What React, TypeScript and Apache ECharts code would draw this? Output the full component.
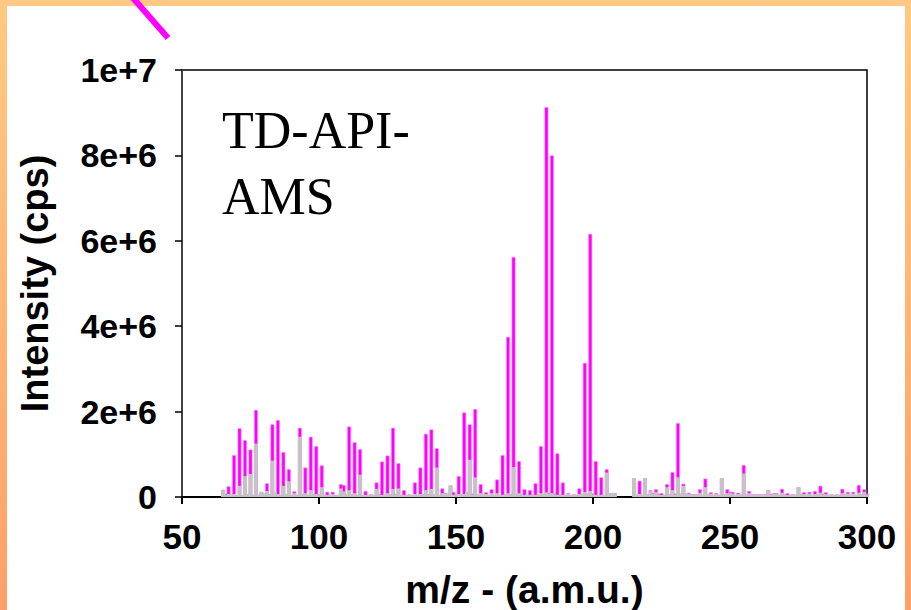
import React, { useEffect, useRef } from "react";
import * as echarts from "echarts";

// m/z values (a.m.u.)
const masses = [
  65, 66, 67, 68, 69, 70, 71, 72, 73, 74, 75, 76, 77, 78, 79, 80, 81, 82, 83, 84,
  85, 86, 87, 88, 89, 90, 91, 92, 93, 94, 95, 96, 97, 98, 99, 100, 101, 102, 103, 104,
  105, 106, 107, 108, 109, 110, 111, 112, 113, 114, 115, 116, 117, 118, 119, 120, 121, 122, 123, 124,
  125, 126, 127, 128, 129, 130, 131, 132, 133, 134, 135, 136, 137, 138, 139, 140, 141, 142, 143, 144,
  145, 146, 147, 148, 149, 150, 151, 152, 153, 154, 155, 156, 157, 158, 159, 160, 161, 162, 163, 164,
  165, 166, 167, 168, 169, 170, 171, 172, 173, 174, 175, 176, 177, 178, 179, 180, 181, 182, 183, 184,
  185, 186, 187, 188, 189, 190, 191, 192, 193, 194, 195, 196, 197, 198, 199, 200, 201, 202, 203, 204,
  205, 206, 207, 208, 215, 216, 217, 218, 219, 220, 221, 222, 223, 224, 225, 226, 227, 228, 229, 230,
  231, 232, 233, 234, 235, 236, 237, 238, 239, 240, 241, 242, 243, 244, 245, 246, 247, 248, 249, 250,
  251, 252, 253, 254, 255, 256, 257, 258, 259, 260, 261, 262, 263, 264, 265, 266, 267, 268, 269, 270,
  271, 272, 273, 274, 275, 276, 277, 278, 279, 280, 281, 282, 283, 284, 285, 286, 287, 288, 289, 290,
  291, 292, 293, 294, 295, 296, 297, 298, 299, 300,
];

// Intensity, millions of cps – magenta spectrum
const magentaMillions = [
  0.17, 0.08, 0.25, 0.05, 0.98, 0.04, 1.61, 0.04, 1.33, 0.06, 1.11, 0.05, 2.04, 0.05, 0.12, 0.08, 0.32, 0.06, 1.70, 0.10,
  1.80, 0.05, 1.05, 0.06, 0.65, 0.04, 0.13, 0.05, 1.62, 0.06, 0.69, 0.05, 1.41, 0.06, 1.19, 0.06, 0.74, 0.05, 0.12, 0.05,
  0.12, 0.04, 0.05, 0.30, 0.28, 0.06, 1.65, 0.06, 1.28, 0.05, 1.12, 0.05, 0.14, 0.05, 0.06, 0.05, 0.34, 0.06, 0.83, 0.05,
  0.97, 0.06, 1.62, 0.07, 0.79, 0.05, 0.16, 0.04, 0.06, 0.04, 0.34, 0.05, 0.69, 0.06, 1.48, 0.07, 1.58, 0.06, 1.14, 0.05,
  0.20, 0.09, 0.08, 0.27, 0.12, 0.06, 0.49, 0.06, 1.98, 0.10, 1.70, 0.08, 2.06, 0.06, 0.30, 0.05, 0.11, 0.04, 0.18, 0.05,
  0.41, 0.05, 0.98, 0.06, 3.75, 0.07, 5.62, 0.08, 0.84, 0.06, 0.18, 0.05, 0.16, 0.05, 0.32, 0.06, 1.19, 0.08, 9.13, 0.10,
  8.00, 0.08, 1.02, 0.05, 0.34, 0.04, 0.09, 0.04, 0.06, 0.04, 0.20, 0.06, 3.14, 0.08, 6.16, 0.08, 0.84, 0.05, 0.46, 0.05,
  0.65, 0.09, 0.09, 0.09, 0.44, 0.05, 0.38, 0.05, 0.44, 0.06, 0.16, 0.10, 0.18, 0.08, 0.09, 0.05, 0.30, 0.06, 0.58, 0.08,
  1.73, 0.08, 0.31, 0.08, 0.10, 0.06, 0.06, 0.06, 0.18, 0.05, 0.43, 0.06, 0.11, 0.05, 0.09, 0.05, 0.44, 0.06, 0.18, 0.12,
  0.12, 0.05, 0.10, 0.05, 0.75, 0.06, 0.14, 0.06, 0.06, 0.06, 0.06, 0.06, 0.06, 0.16, 0.07, 0.09, 0.09, 0.05, 0.19, 0.06,
  0.09, 0.05, 0.06, 0.05, 0.23, 0.06, 0.11, 0.05, 0.12, 0.05, 0.14, 0.06, 0.26, 0.07, 0.11, 0.05, 0.06, 0.05, 0.06, 0.05,
  0.19, 0.06, 0.12, 0.05, 0.12, 0.05, 0.28, 0.06, 0.18, 0.08,
];

// Intensity, millions of cps – grey spectrum
const greyMillions = [
  0.16, 0.06, 0.07, 0.05, 0.07, 0.04, 0.26, 0.04, 0.49, 0.05, 0.54, 0.05, 1.25, 0.05, 0.12, 0.07, 0.14, 0.05, 0.85, 0.10,
  0.07, 0.05, 0.26, 0.05, 0.37, 0.04, 0.09, 0.05, 1.41, 0.05, 0.09, 0.05, 0.16, 0.05, 0.07, 0.05, 0.23, 0.05, 0.05, 0.05,
  0.07, 0.04, 0.05, 0.20, 0.13, 0.05, 0.16, 0.05, 0.09, 0.05, 0.52, 0.05, 0.05, 0.05, 0.05, 0.05, 0.19, 0.05, 0.05, 0.05,
  0.09, 0.05, 0.19, 0.06, 0.20, 0.05, 0.05, 0.04, 0.05, 0.04, 0.07, 0.05, 0.07, 0.05, 0.16, 0.06, 0.19, 0.05, 0.69, 0.05,
  0.09, 0.08, 0.08, 0.27, 0.05, 0.05, 0.07, 0.05, 0.07, 0.12, 0.87, 0.06, 0.46, 0.05, 0.09, 0.05, 0.07, 0.04, 0.09, 0.05,
  0.09, 0.05, 0.05, 0.05, 0.09, 0.06, 0.70, 0.07, 0.09, 0.05, 0.05, 0.05, 0.05, 0.05, 0.05, 0.05, 0.09, 0.07, 0.11, 0.08,
  0.09, 0.06, 0.05, 0.05, 0.05, 0.04, 0.07, 0.04, 0.05, 0.04, 0.07, 0.05, 0.12, 0.07, 0.14, 0.06, 0.05, 0.05, 0.05, 0.05,
  0.57, 0.09, 0.09, 0.08, 0.44, 0.05, 0.07, 0.05, 0.44, 0.05, 0.14, 0.08, 0.12, 0.06, 0.05, 0.05, 0.23, 0.05, 0.16, 0.06,
  0.46, 0.07, 0.26, 0.07, 0.08, 0.05, 0.05, 0.05, 0.10, 0.05, 0.23, 0.05, 0.08, 0.05, 0.07, 0.05, 0.44, 0.05, 0.09, 0.09,
  0.08, 0.05, 0.07, 0.05, 0.55, 0.05, 0.09, 0.05, 0.05, 0.05, 0.05, 0.05, 0.05, 0.14, 0.05, 0.07, 0.07, 0.05, 0.10, 0.05,
  0.05, 0.05, 0.05, 0.05, 0.23, 0.05, 0.07, 0.05, 0.08, 0.05, 0.07, 0.05, 0.10, 0.05, 0.07, 0.05, 0.05, 0.05, 0.05, 0.05,
  0.09, 0.05, 0.08, 0.05, 0.08, 0.05, 0.10, 0.05, 0.12, 0.06,
];

const xTitle = "m/z - (a.m.u.)";
const yTitle = "Intensity (cps)";
const insetLines = ["TD-API-", "AMS"];

export default function App() {
  const ref = useRef<HTMLDivElement>(null);

  useEffect(() => {
    if (!ref.current) return;
    const chart = echarts.init(ref.current, null, { renderer: "svg" });
    const axisFont = {
      fontFamily: "'Liberation Sans', Arial, sans-serif",
      fontWeight: "bold" as const,
      color: "#000",
    };
    chart.setOption({
      animation: false,
      grid: {
        left: 182,
        top: 70,
        right: 44,
        bottom: 113,
        outerBoundsMode: "none",
        containLabel: false,
        show: true,
        borderColor: "#000",
        borderWidth: 1.5,
        backgroundColor: "transparent",
      },
      xAxis: {
        type: "value",
        min: 50,
        max: 300,
        interval: 50,
        name: xTitle,
        nameLocation: "middle",
        nameGap: 72,
        nameTextStyle: { ...axisFont, fontSize: 39, lineHeight: 40 },
        axisLine: { show: true, onZero: false, lineStyle: { color: "#000", width: 2 } },
        axisTick: { show: true, inside: false, length: 7, lineStyle: { color: "#000", width: 2 } },
        axisLabel: { ...axisFont, fontSize: 35, margin: 22 },
        splitLine: { show: false },
      },
      yAxis: {
        type: "value",
        min: 0,
        max: 10,
        interval: 2,
        name: yTitle,
        nameLocation: "middle",
        nameGap: 128,
        nameTextStyle: { ...axisFont, fontSize: 38 },
        axisLine: { show: true, lineStyle: { color: "#444", width: 2 } },
        axisTick: { show: true, inside: false, length: 7, lineStyle: { color: "#000", width: 1.5 } },
        axisLabel: {
          ...axisFont,
          fontSize: 34,
          margin: 25,
          formatter: (v: number) => (v === 0 ? "0" : (v * 1e6).toExponential()),
        },
        splitLine: { show: false },
      },
      series: [
        {
          type: "bar",
          name: "magenta",
          barWidth: 3.8,
          itemStyle: { color: "#FF00FF", borderColor: "#FF80FF", borderWidth: 0.6 },
          data: masses.map((m, i) => [m, magentaMillions[i]]),
          z: 2,
        },
        {
          type: "bar",
          name: "grey",
          barWidth: 3.8,
          barGap: "-100%",
          itemStyle: { color: "#C4C4C4" },
          data: masses.map((m, i) => [m, greyMillions[i]]),
          z: 3,
        },
      ],
      graphic: [
        {
          type: "text",
          left: 222,
          top: 97,
          style: {
            text: insetLines.join("\n"),
            fontFamily: "'Liberation Serif', 'Times New Roman', serif",
            fontSize: 52,
            lineHeight: 66,
            fill: "#000",
          },
        },
        {
          type: "line",
          shape: { x1: 133, y1: -2, x2: 168, y2: 38 },
          style: { stroke: "#FF00FF", lineWidth: 6 },
          z: 100,
        },
      ],
    });
    return () => chart.dispose();
  }, []);

  return (
    <div
      style={{
        position: "fixed",
        left: 0,
        top: 0,
        width: 911,
        height: 610,
        background: "linear-gradient(180deg, #FFC983 0%, #FFB678 50%, #FF9F6B 100%)",
        overflow: "hidden",
      }}
    >
      <div
        style={{
          position: "absolute",
          left: 7,
          top: 6,
          width: 898,
          height: 604,
          background: "#fff",
        }}
      />
      <div ref={ref} style={{ position: "absolute", left: 0, top: 0, width: 911, height: 610 }} />
    </div>
  );
}
